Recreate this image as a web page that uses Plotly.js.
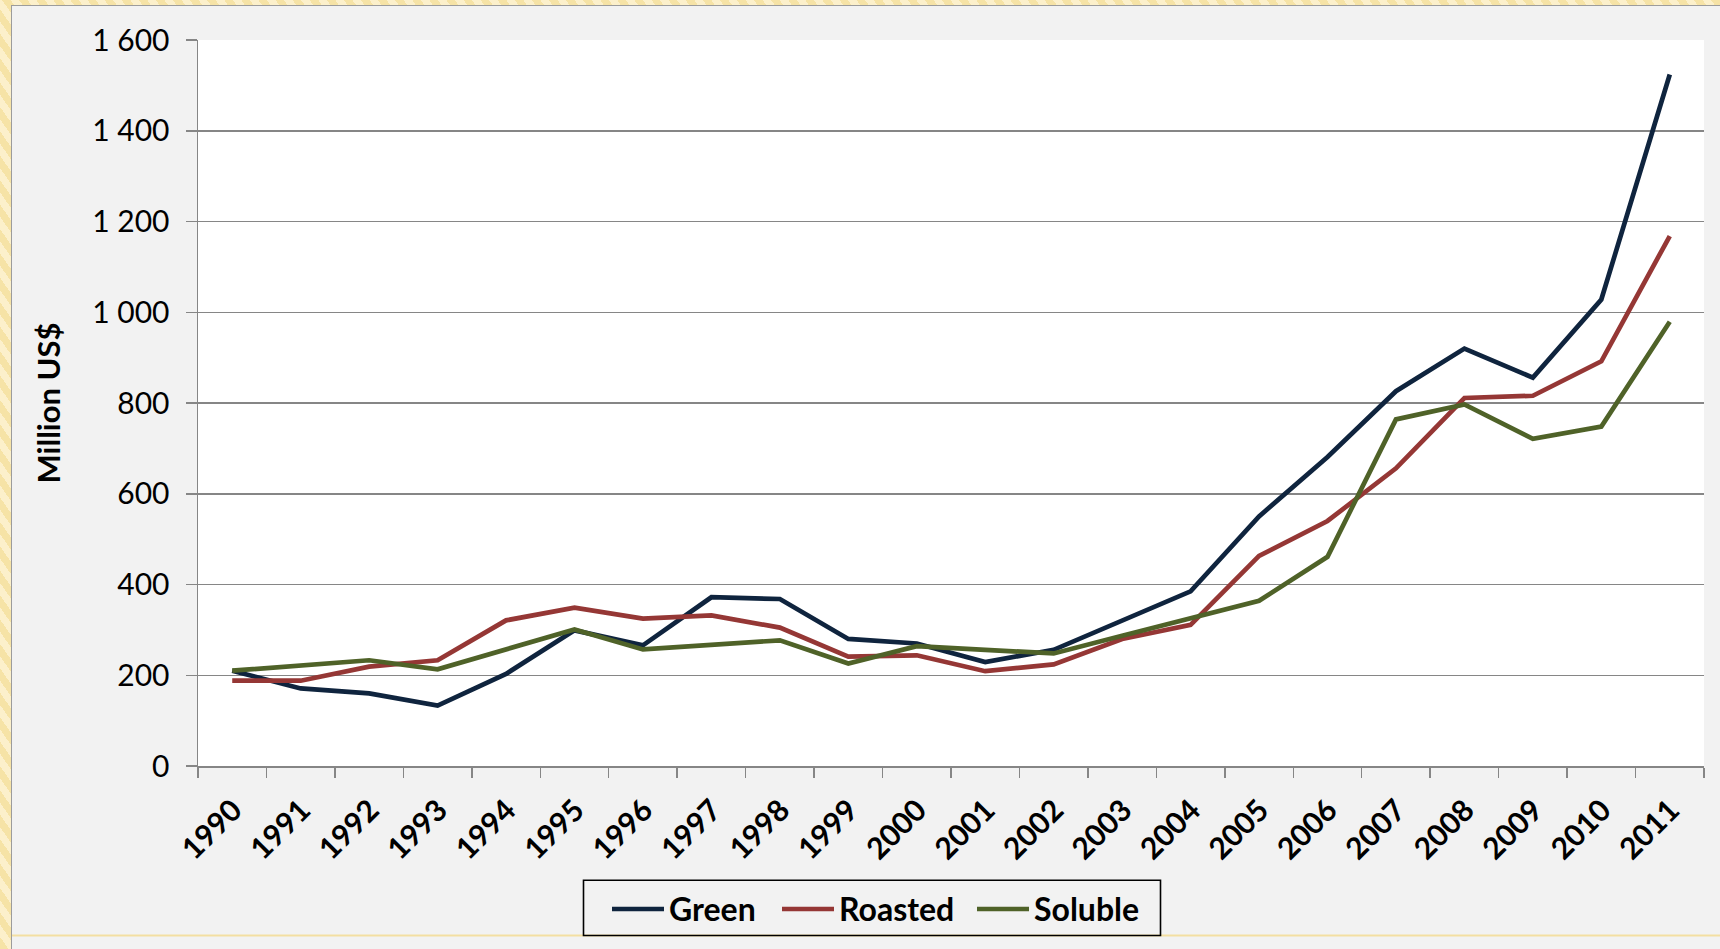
<!DOCTYPE html>
<html>
<head>
<meta charset="utf-8">
<script src="https://cdn.plot.ly/plotly-3.0.1.min.js"></script>
<style>
  html, body { margin: 0; padding: 0; }
  body {
    width: 1720px; height: 949px; overflow: hidden; position: relative;
    background: repeating-linear-gradient(55deg, #f6e3a6 0px, #f6e3a6 7px, #fcf0cb 7px, #fcf0cb 14px);
  }
  #frame {
    position: absolute; left: 11px; top: 5px; width: 1710px; height: 945px;
    border-left: 1px solid #9c9c9c; border-top: 1px solid #9c9c9c;
    background: #f2f2f2;
  }
  #chart { position: absolute; left: 0; top: 0; width: 1708px; height: 943px; }
</style>
</head>
<body>
<div id="frame"><div id="chart"></div></div>
<script>
// Coffee export values, million US$
const years = ['1990','1991','1992','1993','1994','1995','1996','1997','1998','1999','2000',
               '2001','2002','2003','2004','2005','2006','2007','2008','2009','2010','2011'];
const green    = [210, 171, 160, 133, 203, 299, 266, 372, 368, 280, 270,
                  229, 256, 320, 385, 550, 681, 826, 920, 856, 1028, 1524];
const roasted  = [188, 188, 219, 233, 321, 349, 325, 332, 305, 241, 244,
                  209, 224, 280, 311, 463, 540, 656, 811, 816, 892, 1168];
const soluble  = [210, 222, 233, 213, 257, 301, 257, 268, 277, 226, 264,
                  256, 248, 287, 325, 364, 461, 764, 797, 721, 748, 979];

const seriesNames  = ['Green', 'Roasted', 'Soluble'];
const seriesValues = [green, roasted, soluble];

// Line colours and legend entry widths (px) per series
const seriesColors = ['#0f243e', '#953735', '#4f6228'];
const legendWidths = [103, 128, 110];

const traces = seriesNames.map((name, i) => ({
  type: 'scatter',
  mode: 'lines',
  name: name,
  x: years,
  y: seriesValues[i],
  line: { color: seriesColors[i], width: 4.7 },
  legendwidth: legendWidths[i],
  hoverinfo: 'x+y+name'
}));

const W = 1708, H = 943;
const M = { l: 186, r: 16, t: 34, b: 181 };
const pw = W - M.l - M.r, ph = H - M.t - M.b;
// page-pixel helpers for this 1708x943 figure placed at (12, 6)
const px = X => (X - 12 - M.l) / pw;
const py = Y => (6 + M.t + ph - Y) / ph;

const layout = {
  width: W, height: H,
  margin: M,
  paper_bgcolor: '#f2f2f2',
  plot_bgcolor: '#ffffff',
  separators: '. ',
  font: { family: 'Lato, "Liberation Sans", sans-serif', color: '#000000' },
  showlegend: true,
  legend: {
    orientation: 'h',
    x: px(607), xanchor: 'left',
    y: py(884), yanchor: 'top',
    bgcolor: 'rgba(0,0,0,0)',
    borderwidth: 0,
    font: { size: 32, family: 'Lato, sans-serif', weight: 'bold', color: '#000' },
    traceorder: 'normal',
    itemwidth: 52
  },
  xaxis: {
    type: 'category',
    range: [-0.5, years.length - 0.5],
    tickangle: -45,
    tickson: 'boundaries',
    ticks: 'outside', ticklen: 10, tickwidth: 1.5, tickcolor: '#868686',
    showline: true, linecolor: '#868686', linewidth: 1.5,
    showgrid: false, zeroline: false,
    ticklabelshift: 1,
    ticklabelstandoff: 13,
    tickfont: { size: 30, family: 'Lato, sans-serif', weight: 'bold', color: '#000' },
    fixedrange: true
  },
  yaxis: {
    range: [0, 1600],
    dtick: 200,
    tick0: 0,
    separatethousands: true,
    ticks: 'outside', ticklen: 11, tickwidth: 1.5, tickcolor: '#868686',
    showline: true, linecolor: '#868686', linewidth: 1.5,
    showgrid: true, gridcolor: '#868686', gridwidth: 1.5,
    zeroline: false,
    ticklabelstandoff: 10,
    tickfont: { size: 30, family: 'Lato, sans-serif', color: '#000' },
    title: {
      text: 'Million US$',
      font: { size: 31, family: 'Lato, sans-serif', weight: 'bold', color: '#000' },
      standoff: 22
    },
    fixedrange: true
  },
  shapes: [
    {
      // thin gold rule along the bottom of the frame
      type: 'line', layer: 'below',
      xref: 'paper', yref: 'paper',
      x0: px(12), x1: px(1720), y0: py(938), y1: py(938),
      line: { color: '#f3dfa2', width: 2 }
    },
    {
      // legend box outline
      type: 'rect', layer: 'above',
      xref: 'paper', yref: 'paper',
      x0: px(583.5), x1: px(1160.5), y0: py(882.5), y1: py(938),
      line: { color: '#000000', width: 1.6 },
      fillcolor: 'rgba(0,0,0,0)'
    }
  ]
};

Plotly.newPlot('chart', traces, layout, { displayModeBar: false, staticPlot: true });
</script>
</body>
</html>
